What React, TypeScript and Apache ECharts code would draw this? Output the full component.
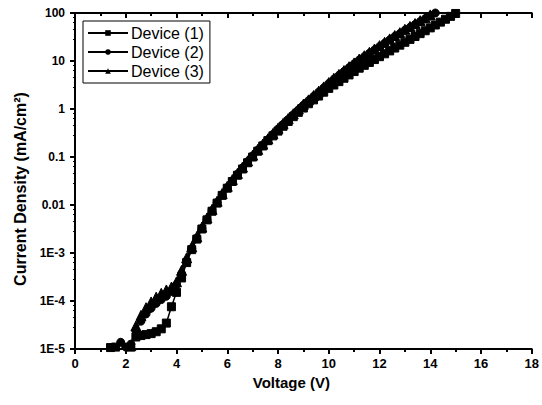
import React, { useEffect, useRef } from "react";
import * as echarts from "echarts";

// Voltages (V) and log10 of current density (mA/cm²)
const dev1V = [1.4,1.6,1.8,2.0,2.2,2.4,2.6,2.8,3.0,3.2,3.4,3.6,3.8,4.0,4.2,4.4,4.6,4.8,5.0,5.2,5.4,5.6,5.8,6.0,6.2,6.4,6.6,6.8,7.0,7.2,7.4,7.6,7.8,8.0,8.2,8.4,8.6,8.8,9.0,9.2,9.4,9.6,9.8,10.0,10.2,10.4,10.6,10.8,11.0,11.2,11.4,11.6,11.8,12.0,12.2,12.4,12.6,12.8,13.0,13.2,13.4,13.6,13.8,14.0,14.2,14.4,14.6,14.8,15.0,15.2];
const dev1LogJ = [-4.97,-4.96,-5.02,-5.05,-4.96,-4.75,-4.72,-4.70,-4.68,-4.64,-4.58,-4.46,-4.12,-3.82,-3.52,-3.20,-2.93,-2.71,-2.50,-2.31,-2.13,-1.96,-1.80,-1.65,-1.51,-1.38,-1.25,-1.12,-1.00,-0.88,-0.77,-0.66,-0.56,-0.46,-0.36,-0.26,-0.16,-0.07,0.02,0.11,0.19,0.27,0.35,0.43,0.50,0.57,0.64,0.71,0.78,0.85,0.91,0.97,1.03,1.09,1.15,1.21,1.27,1.33,1.39,1.45,1.51,1.57,1.63,1.69,1.75,1.81,1.87,1.93,1.99,2.05];

const dev2V = [1.8,2.0,2.2,2.4,2.6,2.8,3.0,3.2,3.4,3.6,3.8,4.0,4.2,4.4,4.6,4.8,5.0,5.2,5.4,5.6,5.8,6.0,6.2,6.4,6.6,6.8,7.0,7.2,7.4,7.6,7.8,8.0,8.2,8.4,8.6,8.8,9.0,9.2,9.4,9.6,9.8,10.0,10.2,10.4,10.6,10.8,11.0,11.2,11.4,11.6,11.8,12.0,12.2,12.4,12.6,12.8,13.0,13.2,13.4,13.6,13.8,14.0,14.2,14.4];
const dev2LogJ = [-4.86,-4.96,-4.90,-4.62,-4.42,-4.27,-4.15,-4.05,-3.97,-3.90,-3.80,-3.66,-3.43,-3.16,-2.91,-2.69,-2.49,-2.30,-2.12,-1.95,-1.79,-1.64,-1.50,-1.36,-1.23,-1.10,-0.98,-0.86,-0.75,-0.64,-0.53,-0.42,-0.32,-0.22,-0.12,-0.02,0.08,0.17,0.26,0.35,0.44,0.53,0.62,0.70,0.78,0.86,0.94,1.02,1.09,1.16,1.23,1.30,1.37,1.44,1.51,1.57,1.64,1.70,1.76,1.82,1.88,1.94,2.00,2.06];

const dev3V = [2.0,2.2,2.4,2.6,2.8,3.0,3.2,3.4,3.6,3.8,4.0,4.2,4.4,4.6,4.8,5.0,5.2,5.4,5.6,5.8,6.0,6.2,6.4,6.6,6.8,7.0,7.2,7.4,7.6,7.8,8.0,8.2,8.4,8.6,8.8,9.0,9.2,9.4,9.6,9.8,10.0,10.2,10.4,10.6,10.8,11.0,11.2,11.4,11.6,11.8,12.0,12.2,12.4,12.6,12.8,13.0,13.2,13.4,13.6,13.8,14.0,14.2];
const dev3LogJ = [-5.05,-4.93,-4.52,-4.30,-4.14,-4.02,-3.92,-3.84,-3.77,-3.71,-3.60,-3.36,-3.10,-2.87,-2.66,-2.46,-2.27,-2.09,-1.92,-1.76,-1.61,-1.47,-1.34,-1.21,-1.08,-0.96,-0.84,-0.73,-0.62,-0.51,-0.40,-0.30,-0.20,-0.10,0.00,0.10,0.19,0.28,0.37,0.46,0.55,0.64,0.72,0.80,0.88,0.96,1.04,1.11,1.18,1.25,1.32,1.39,1.46,1.53,1.59,1.66,1.72,1.78,1.84,1.90,1.96,2.02];

const seriesNames = ["Device (1)", "Device (2)", "Device (3)"];
const seriesSymbols = ["rect", "circle", "triangle"];
const xTicks = { min: 0, max: 18, interval: 2 };
const yTickLabels: Record<string, string> = {
  "2": "100", "1": "10", "0": "1", "-1": "0.1", "-2": "0.01", "-3": "1E-3", "-4": "1E-4", "-5": "1E-5",
};

const FONT = "'Liberation Sans', Arial, Helvetica, sans-serif";

function pairs(v: number[], logJ: number[]) {
  return v.map((x, i) => [x, Math.pow(10, logJ[i])]);
}

export default function App() {
  const ref = useRef<HTMLDivElement>(null);
  useEffect(() => {
    document.body.style.margin = "0";
    if (!ref.current) return;
    const chart = echarts.init(ref.current, undefined, { renderer: "svg" });
    const datasets = [pairs(dev1V, dev1LogJ), pairs(dev2V, dev2LogJ), pairs(dev3V, dev3LogJ)];
    const axisLine = { show: true, lineStyle: { color: "#000", width: 2 } };
    const yLabel = (v: number) => {
      const e = Math.round(Math.log10(v));
      return yTickLabels[String(e)] ?? "";
    };
    chart.setOption({
      animation: false,
      backgroundColor: "#fff",
      grid: { left: 75, right: 7, top: 13, bottom: 56, containLabel: false },
      legend: {
        orient: "vertical",
        left: 83,
        top: 21,
        padding: [4, 6, 4, 4],
        itemGap: 3,
        itemWidth: 40,
        itemHeight: 7,
        borderColor: "#000",
        borderWidth: 1,
        backgroundColor: "#fff",
        data: seriesNames,
        textStyle: { fontFamily: FONT, fontSize: 16, color: "#000", padding: [0, 0, 0, -2] },
      },
      xAxis: [
        {
          type: "value",
          min: xTicks.min,
          max: xTicks.max,
          interval: xTicks.interval,
          position: "bottom",
          name: "Voltage (V)",
          nameLocation: "middle",
          nameGap: 25,
          nameTextStyle: { fontFamily: FONT, fontSize: 15, fontWeight: "bold", color: "#000", padding: [0, 24, 0, 0] },
          axisLine,
          axisTick: { show: true, inside: false, length: 5, lineStyle: { color: "#000", width: 2 } },
          minorTick: { show: true, splitNumber: 2, length: 3, lineStyle: { color: "#000", width: 2 } },
          axisLabel: { fontFamily: FONT, fontSize: 13, fontWeight: "bold", color: "#000", margin: 8 },
          splitLine: { show: false },
        },
        {
          type: "value",
          min: xTicks.min,
          max: xTicks.max,
          interval: xTicks.interval,
          position: "top",
          axisLine,
          axisTick: { show: true, inside: true, length: 5, lineStyle: { color: "#000", width: 2 } },
          minorTick: { show: true, splitNumber: 2, length: 3, lineStyle: { color: "#000", width: 2 } },
          axisLabel: { show: false },
          splitLine: { show: false },
        },
      ],
      yAxis: [
        {
          type: "log",
          logBase: 10,
          min: 1e-5,
          max: 100,
          splitNumber: 7,
          position: "left",
          name: "Current Density (mA/cm²)",
          nameLocation: "middle",
          nameGap: 47,
          nameTextStyle: { fontFamily: FONT, fontSize: 16, fontWeight: "bold", color: "#000", padding: [0, 16, 0, 0] },
          axisLine,
          axisTick: { show: true, inside: false, length: 5, lineStyle: { color: "#000", width: 2 } },
          minorTick: { show: true, splitNumber: 5, length: 2, lineStyle: { color: "#000", width: 1 } },
          axisLabel: { fontFamily: FONT, fontSize: 12, fontWeight: "bold", color: "#000", margin: 10, formatter: yLabel },
          splitLine: { show: false },
        },
        {
          type: "log",
          logBase: 10,
          min: 1e-5,
          max: 100,
          splitNumber: 7,
          position: "right",
          axisLine,
          axisTick: { show: true, inside: true, length: 5, lineStyle: { color: "#000", width: 2 } },
          minorTick: { show: true, splitNumber: 5, length: 2, lineStyle: { color: "#000", width: 1 } },
          axisLabel: { show: false },
          splitLine: { show: false },
        },
      ],
      series: seriesNames.map((name, i) => ({
        name,
        type: "line",
        xAxisIndex: 0,
        yAxisIndex: 0,
        data: datasets[i],
        symbol: seriesSymbols[i],
        symbolSize: i === 2 ? 10 : 8,
        showSymbol: true,
        clip: true,
        lineStyle: { color: "#000", width: 1.5 },
        itemStyle: { color: "#000", borderColor: "#000" },
        z: 3 - i,
      })),
    });
    return () => chart.dispose();
  }, []);
  return <div ref={ref} style={{ width: 542, height: 405 }} />;
}
